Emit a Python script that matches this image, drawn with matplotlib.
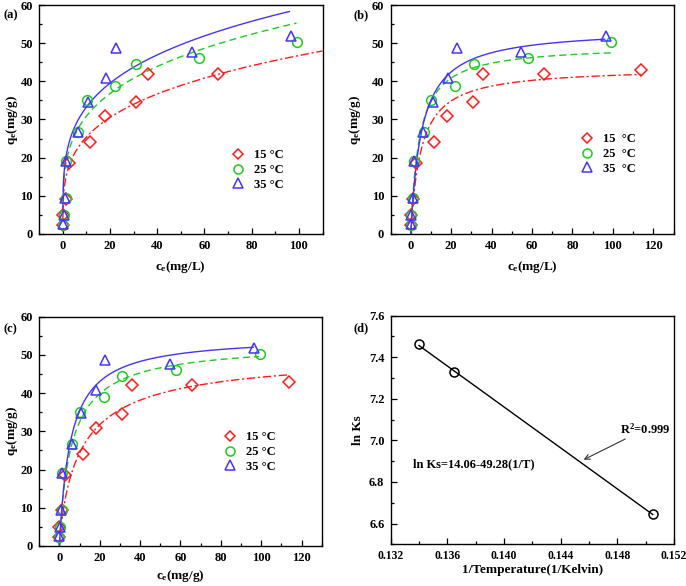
import numpy as np
import matplotlib
matplotlib.use("Agg")
import matplotlib.pyplot as plt
from matplotlib.ticker import MultipleLocator, FormatStrFormatter

plt.rcParams['font.family'] = ['Liberation Serif', 'DejaVu Serif']
plt.rcParams['font.weight'] = 'bold'
plt.rcParams['mathtext.fontset'] = 'custom'
plt.rcParams['mathtext.rm'] = 'Liberation Serif:bold'
plt.rcParams['mathtext.it'] = 'Liberation Serif:bold'
plt.rcParams['mathtext.bf'] = 'Liberation Serif:bold'

# ---- data ----
labels = ["15 °C", "25 °C", "35 °C"]
ce_15 = [0.0, 0.0, 1.2, 2.8, 11.5, 18.0, 31.0, 36.0, 65.8, 113.9]
qe_15 = [2.4, 4.9, 9.3, 18.7, 24.2, 31.0, 34.6, 42.0, 42.0, 42.9]
ce_25 = [0.0, 0.3, 1.2, 1.5, 6.4, 10.2, 22.1, 31.2, 57.8, 99.3]
qe_25 = [2.4, 5.0, 9.4, 19.1, 26.8, 35.0, 38.9, 44.5, 46.0, 50.3]
ce_35 = [0.0, 0.3, 1.0, 1.5, 6.3, 10.8, 18.3, 22.7, 54.8, 96.5]
qe_35 = [2.5, 5.0, 9.4, 19.2, 26.8, 34.7, 40.9, 48.7, 47.7, 51.9]

# fitted model parameters (estimated from the drawn curves)
# (a) Freundlich: q = Kf * c^(1/n)
freund_kf = [13.8, 17.2, 18.8]
freund_inv_n = [0.265, 0.254, 0.248]
freund_cmax = [110.0, 99.0, 96.0]
# (b) Langmuir: q = qm*K*c/(1+K*c)
lang_qm = [43.65, 49.5, 53.9]
lang_k = [0.198, 0.236, 0.1855]
lang_cmax = [114.0, 99.0, 96.0]
# (c) Sips: q = qm*(K*c)^n/(1+(K*c)^n)
sips_qm = [51.0, 53.5, 55.0]
sips_k = [0.09, 0.16, 0.18]
sips_n = [0.85, 0.92, 1.0]
sips_cmax = [114.0, 99.0, 96.0]

# (d) ln Ks vs 1/T
inv_T = [0.1340, 0.1365, 0.1505]
ln_ks = [7.462, 7.328, 6.645]
fit_a = 14.06
fit_b = -49.28

colors = ["#ff1a1a", "#1ecc1e", "#4433ff"]
markers = ["D", "o", "^"]
msizes = [6.0, 7.0, 7.5]
lstyles = [(0, (6, 2, 1.5, 2)), (0, (5, 3)), "-"]

fig = plt.figure(figsize=(6.86, 5.86), dpi=100)
W, H = 686, 586

def add_ax(l, t, r, b):
    return fig.add_axes([l / W, 1 - b / H, (r - l) / W, (b - t) / H])

ax_a = add_ax(39.2, 5, 322.5, 234)
ax_b = add_ax(390.5, 5, 673.5, 234)
ax_c = add_ax(39.2, 316.7, 321.7, 546)
ax_d = add_ax(390.7, 315.7, 674, 544.3)

TICK_FS = 9
LABEL_FS = 9.5

def style(ax, xlab, ylab, xl_y, yl_x):
    for s in ax.spines.values():
        s.set_linewidth(1.0)
    ax.tick_params(axis='both', which='both', direction='in', top=False, right=False,
                   labelsize=TICK_FS, width=0.9)
    ax.tick_params(which='major', length=4)
    ax.tick_params(which='minor', length=2.5)
    ax.tick_params(axis='y', which='major', pad=4.5)
    ax.tick_params(axis='x', which='major', pad=4.0)
    for lab in ax.get_xticklabels() + ax.get_yticklabels():
        lab.set_fontweight('bold')
    ax.set_xlabel(xlab, fontsize=LABEL_FS, fontweight='bold')
    ax.set_ylabel(ylab, fontsize=LABEL_FS, fontweight='bold')
    ax.xaxis.set_label_coords(0.5, xl_y)
    ax.xaxis.label.set_va('center')
    ax.yaxis.set_label_coords(yl_x, 0.5)
    ax.yaxis.label.set_va('center')

def scatter_all(ax):
    data = [(ce_15, qe_15), (ce_25, qe_25), (ce_35, qe_35)]
    for i in [2, 1, 0]:
        x, y = data[i]
        ax.plot(x, y, linestyle='none', marker=markers[i], ms=msizes[i],
                mfc='none', mec=colors[i], mew=1.1, zorder=3 + i * 0.1)

def legend(ax, anchor, labs):
    hs = [ax.plot([], [], linestyle='none', marker=markers[i], ms=msizes[i] - 0.5,
                  mfc='none', mec=colors[i], mew=1.1)[0] for i in range(3)]
    ax.legend(hs, labs, loc='upper left', bbox_to_anchor=anchor, frameon=False,
              prop={'weight': 'bold', 'size': 9}, handlelength=1.0, handletextpad=0.8,
              labelspacing=0.22, borderpad=0, borderaxespad=0)

def iso_axes(ax, xmax):
    ax.set_xlim(-10, xmax)
    ax.set_ylim(0, 60)
    ax.xaxis.set_major_locator(MultipleLocator(20))
    ax.xaxis.set_minor_locator(MultipleLocator(10))
    ax.yaxis.set_major_locator(MultipleLocator(10))
    ax.yaxis.set_minor_locator(MultipleLocator(5))

# ---- (a) ----
ax = ax_a
for i in range(3):
    c = np.linspace(0.01, freund_cmax[i], 400)
    q = freund_kf[i] * c ** freund_inv_n[i]
    ax.plot(c, q, color=colors[i], lw=1.0, ls=lstyles[i], zorder=2)
scatter_all(ax)
iso_axes(ax, 110)
legend(ax, (0.68, 0.37), labels)
style(ax, r'c$_\mathregular{e}$(mg/L)', r'q$_\mathregular{e}$(mg/g)', -0.144, -0.096)

# ---- (b) ----
ax = ax_b
for i in range(3):
    c = np.linspace(0.0, lang_cmax[i], 400)
    q = lang_qm[i] * lang_k[i] * c / (1 + lang_k[i] * c)
    ax.plot(c, q, color=colors[i], lw=1.0, ls=lstyles[i], zorder=2)
scatter_all(ax)
iso_axes(ax, 130)
legend(ax, (0.673, 0.44), ["15  °C", "25  °C", "35  °C"])
style(ax, r'c$_\mathregular{e}$(mg/L)', r'q$_\mathregular{e}$(mg/g)', -0.144, -0.126)

# ---- (c) ----
ax = ax_c
for i in range(3):
    c = np.linspace(0.0, sips_cmax[i], 400)
    kc = (sips_k[i] * c) ** sips_n[i]
    q = sips_qm[i] * kc / (1 + kc)
    ax.plot(c, q, color=colors[i], lw=1.0, ls=lstyles[i], zorder=2)
scatter_all(ax)
iso_axes(ax, 130)
legend(ax, (0.654, 0.50), labels)
style(ax, r'c$_\mathregular{e}$(mg/g)', r'q$_\mathregular{e}$(mg/g)', -0.131, -0.096)

# ---- (d) ----
ax = ax_d
xf = np.array([min(inv_T), max(inv_T)])
ax.plot(xf, fit_a + fit_b * xf, color='black', lw=1.0, zorder=2)
ax.plot(inv_T, ln_ks, linestyle='none', marker='o', ms=6.5, mfc='none', mec='black', mew=1.1, zorder=3)
ax.set_xlim(0.132, 0.152)
ax.set_ylim(6.5, 7.6)
ax.xaxis.set_major_locator(MultipleLocator(0.004))
ax.xaxis.set_minor_locator(MultipleLocator(0.002))
ax.yaxis.set_major_locator(MultipleLocator(0.2))
ax.yaxis.set_minor_locator(MultipleLocator(0.1))
ax.xaxis.set_major_formatter(FormatStrFormatter('%.3f'))
ax.yaxis.set_major_formatter(FormatStrFormatter('%.1f'))
ax.annotate(r'R$^\mathregular{2}$=0.999', xy=(0.14562, 6.907), xytext=(0.1482, 7.02),
            fontsize=9, fontweight='bold', va='bottom', ha='left',
            arrowprops=dict(arrowstyle='->', color='#333333', lw=0.8, shrinkA=0, shrinkB=0))
ax.text(0.1336, 6.886, 'ln Ks=14.06-49.28(1/T)', fontsize=9, fontweight='bold', va='center', ha='left')
style(ax, '1/Temperature(1/Kelvin)', 'ln Ks', -0.112, -0.115)
ax.tick_params(axis='x', labelsize=8.4)

# panel letters
for txt, x, y in [("(a)", 4, 15), ("(b)", 353, 15), ("(c)", 3, 329), ("(d)", 353, 328)]:
    fig.text(x / W, 1 - y / H, txt, fontsize=9, fontweight='bold', va='center', ha='left')

fig.savefig("out.png", dpi=100)
